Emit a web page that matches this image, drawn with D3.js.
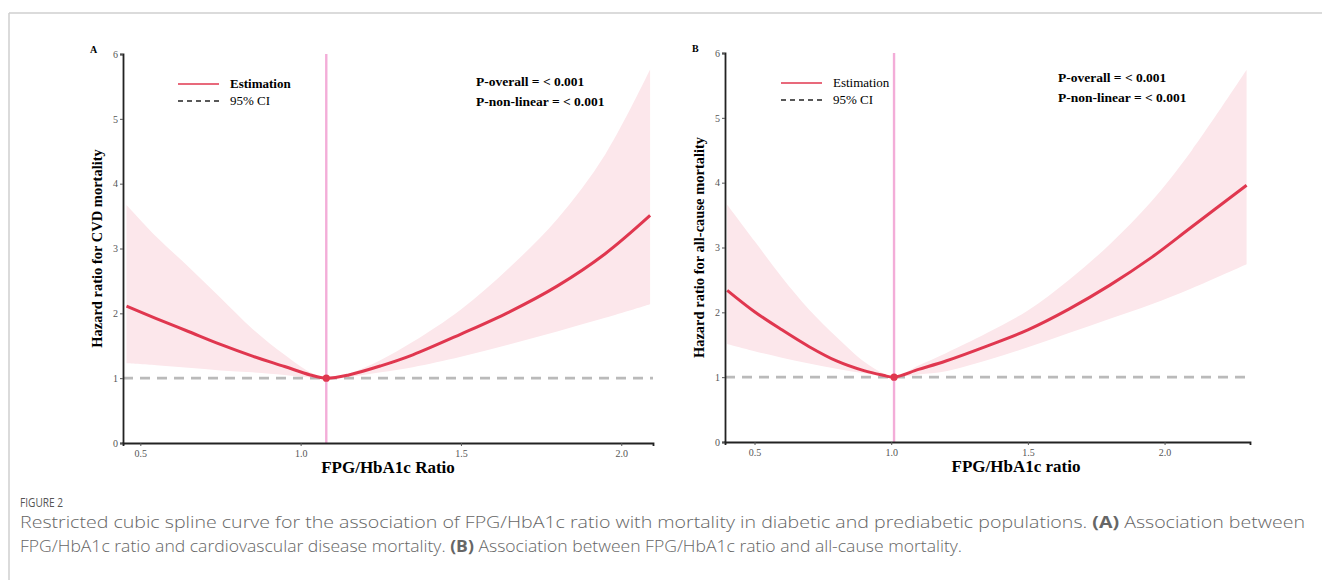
<!DOCTYPE html>
<html>
<head>
<meta charset="utf-8">
<script src="https://cdn.jsdelivr.net/npm/d3@7"></script>
<style>
  body { margin: 0; background: #fff; }
  svg { display: block; }
</style>
</head>
<body>
<svg id="fig" width="1322" height="580"></svg>
<script>
// Panel A: CVD mortality
const xA     = [0.457, 0.55, 0.65, 0.75, 0.85, 0.95, 1.03, 1.08, 1.15, 1.25, 1.35, 1.5, 1.65, 1.8, 1.95, 2.09];
const estA   = [2.11, 1.92, 1.72, 1.52, 1.34, 1.18, 1.05, 1.00, 1.05, 1.19, 1.36, 1.68, 2.02, 2.42, 2.92, 3.51];
const upperA = [3.67, 3.18, 2.72, 2.24, 1.76, 1.36, 1.09, 1.00, 1.07, 1.28, 1.56, 2.06, 2.70, 3.45, 4.45, 5.76];
const lowerA = [1.23, 1.20, 1.16, 1.12, 1.09, 1.05, 1.01, 1.00, 1.02, 1.09, 1.17, 1.33, 1.52, 1.72, 1.93, 2.14];

// Panel B: all-cause mortality
const xB     = [0.40, 0.5, 0.6, 0.7, 0.8, 0.9, 0.97, 1.01, 1.1, 1.2, 1.35, 1.5, 1.65, 1.8, 1.95, 2.1, 2.3];
const estB   = [2.34, 2.01, 1.73, 1.47, 1.25, 1.10, 1.03, 1.00, 1.12, 1.25, 1.48, 1.73, 2.05, 2.42, 2.84, 3.32, 3.96];
const upperB = [3.66, 3.10, 2.54, 2.04, 1.62, 1.24, 1.06, 1.00, 1.18, 1.37, 1.68, 2.03, 2.50, 3.05, 3.70, 4.50, 5.74];
const lowerB = [1.51, 1.40, 1.30, 1.21, 1.13, 1.06, 1.02, 1.00, 1.04, 1.09, 1.26, 1.46, 1.68, 1.90, 2.12, 2.37, 2.74];

const yTicks = [0, 1, 2, 3, 4, 5, 6];
const xTicks = [0.5, 1.0, 1.5, 2.0];

const svg = d3.select('#fig');

// light frame around the figure
svg.append('line').attr('x1', 9).attr('y1', 13).attr('x2', 1322).attr('y2', 13)
    .attr('stroke', '#cfcfcf').attr('stroke-width', 1.5);
svg.append('line').attr('x1', 9).attr('y1', 13).attr('x2', 9).attr('y2', 580)
    .attr('stroke', '#cfcfcf').attr('stroke-width', 1.5);

const serif = '"Liberation Serif", "Times New Roman", serif';
const smooth = d3.curveCatmullRom.alpha(0.5);

function drawPanel(p){
    const g = svg.append('g');

    const x = d3.scaleLinear().domain(p.xDomain).range([p.left, p.right]);
    const y = d3.scaleLinear().domain([0, 6]).range([p.bottom, p.top]);

    const pts = p.xs.map((v, i) => ({x: v, est: p.est[i], lo: p.lower[i], hi: p.upper[i]}));

    // confidence band
    g.append('path').datum(pts)
        .attr('d', d3.area().curve(smooth)
            .x(d => x(d.x)).y0(d => y(d.lo)).y1(d => y(d.hi)))
        .attr('fill', '#fce7eb');

    // reference line HR = 1
    g.append('line')
        .attr('x1', p.left).attr('x2', p.right)
        .attr('y1', y(1)).attr('y2', y(1))
        .attr('stroke', '#bababa').attr('stroke-width', 2.6)
        .attr('stroke-dasharray', '10,7');

    // vertical line at reference value
    g.append('line')
        .attr('x1', x(p.ref)).attr('x2', x(p.ref))
        .attr('y1', y(6)).attr('y2', y(0))
        .attr('stroke', '#f3add8').attr('stroke-width', 2.4);

    // estimate
    g.append('path').datum(pts)
        .attr('d', d3.line().curve(smooth).x(d => x(d.x)).y(d => y(d.est)))
        .attr('fill', 'none').attr('stroke', '#e0374f').attr('stroke-width', 3);

    g.append('circle').attr('cx', x(p.ref)).attr('cy', y(1)).attr('r', 3.6).attr('fill', '#e0374f');

    // axes
    const yAxis = g.append('g').attr('transform', `translate(${p.left},0)`)
        .call(d3.axisLeft(y).tickValues(yTicks).tickSize(3).tickPadding(2).tickFormat(d3.format('d')));
    const xAxis = g.append('g').attr('transform', `translate(0,${p.bottom})`)
        .call(d3.axisBottom(x).tickValues(xTicks).tickSize(3).tickPadding(4).tickFormat(d3.format('.1f')));
    [yAxis, xAxis].forEach(a => {
        a.select('.domain').attr('stroke', '#222').attr('stroke-width', 1.8);
        a.selectAll('.tick line').attr('stroke', '#555');
        a.selectAll('.tick text').attr('fill', '#555').style('font-family', serif).style('font-size', '10px');
    });

    // panel letter
    g.append('text').attr('x', p.left - 33).attr('y', p.top - 1)
        .text(p.letter).style('font-family', serif).style('font-weight', 'bold').style('font-size', '10px');

    // axis titles
    g.append('text')
        .attr('transform', `translate(${p.left - 21},${(p.top + p.bottom) / 2}) rotate(-90)`)
        .attr('text-anchor', 'middle')
        .text(p.yTitle).style('font-family', serif).style('font-weight', 'bold').style('font-size', '14.5px');
    g.append('text').attr('x', p.xTitleX).attr('y', p.bottom + 30)
        .attr('text-anchor', 'middle')
        .text(p.xTitle).style('font-family', serif).style('font-weight', 'bold').style('font-size', '17px');

    // legend
    g.append('line').attr('x1', p.legX).attr('x2', p.legX + 41).attr('y1', p.legY).attr('y2', p.legY)
        .attr('stroke', '#e0374f').attr('stroke-width', 1.3);
    g.append('line').attr('x1', p.legX).attr('x2', p.legX + 41).attr('y1', p.legY + 17).attr('y2', p.legY + 17)
        .attr('stroke', '#222').attr('stroke-width', 1.5).attr('stroke-dasharray', '5,4');
    g.append('text').attr('x', p.legX + 52).attr('y', p.legY + 4)
        .text('Estimation').style('font-family', serif).style('font-size', '13px')
        .style('font-weight', p.legBold ? 'bold' : 'normal');
    g.append('text').attr('x', p.legX + 52).attr('y', p.legY + 21)
        .text('95% CI').style('font-family', serif).style('font-size', '13px');

    // p values
    g.append('text').attr('x', p.pX).attr('y', p.pY)
        .text('P-overall = < 0.001').style('font-family', serif).style('font-weight', 'bold').style('font-size', '13.5px');
    g.append('text').attr('x', p.pX).attr('y', p.pY + 20)
        .text('P-non-linear = < 0.001').style('font-family', serif).style('font-weight', 'bold').style('font-size', '13.5px');
}

drawPanel({
    letter: 'A', xs: xA, est: estA, upper: upperA, lower: lowerA, ref: 1.08,
    xDomain: [0.446, 2.099], left: 123, right: 653, top: 54, bottom: 443,
    yTitle: 'Hazard ratio for CVD mortality', xTitle: 'FPG/HbA1c Ratio', xTitleX: 388,
    legX: 178, legY: 84, legBold: true, pX: 476, pY: 86
});

drawPanel({
    letter: 'B', xs: xB, est: estB, upper: upperB, lower: lowerB, ref: 1.0104,
    xDomain: [0.392, 2.3125], left: 725, right: 1250, top: 53, bottom: 442,
    yTitle: 'Hazard ratio for all-cause mortality', xTitle: 'FPG/HbA1c ratio', xTitleX: 1016,
    legX: 781, legY: 83, legBold: false, pX: 1058, pY: 82
});

// caption
const sans = '"Open Sans", "Noto Sans", sans-serif';
svg.append('text').attr('x', 20).attr('y', 507).text('FIGURE 2')
    .style('font-family', sans).style('font-size', '13.5px').attr('fill', '#555')
    .attr('textLength', 43).attr('lengthAdjust', 'spacingAndGlyphs');

const cap1 = svg.append('text').attr('x', 20).attr('y', 528)
    .style('font-family', sans).style('font-size', '16.5px').style('font-weight', 300).attr('fill', '#666')
    .attr('textLength', 1285).attr('lengthAdjust', 'spacingAndGlyphs');
cap1.append('tspan').text('Restricted cubic spline curve for the association of FPG/HbA1c ratio with mortality in diabetic and prediabetic populations. ');
cap1.append('tspan').text('(A)').style('font-weight', 'bold');
cap1.append('tspan').text(' Association between');

const cap2 = svg.append('text').attr('x', 20).attr('y', 552)
    .style('font-family', sans).style('font-size', '16.5px').style('font-weight', 300).attr('fill', '#666')
    .attr('textLength', 942).attr('lengthAdjust', 'spacingAndGlyphs');
cap2.append('tspan').text('FPG/HbA1c ratio and cardiovascular disease mortality. ');
cap2.append('tspan').text('(B)').style('font-weight', 'bold');
cap2.append('tspan').text(' Association between FPG/HbA1c ratio and all-cause mortality.');
</script>
</body>
</html>
